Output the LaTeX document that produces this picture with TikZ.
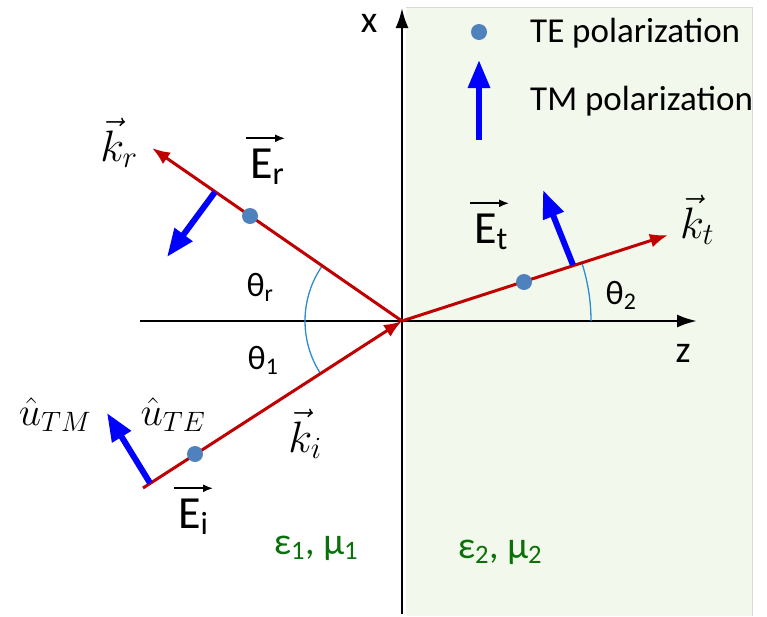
\RequirePackage{fix-cm}
\documentclass[tikz,border=0pt]{standalone}
\usepackage{fontspec}
\newfontfamily\cb{Carlito}
\usetikzlibrary{arrows.meta}
\definecolor{raycol}{HTML}{C00000}
\definecolor{tmcol}{HTML}{0000FF}
\definecolor{tecol}{HTML}{4F81BD}
\definecolor{arccol}{HTML}{2E8BD0}
\definecolor{medcol}{HTML}{F2F8EB}
\definecolor{grncol}{HTML}{0A700A}
\begin{document}
\begin{tikzpicture}[x=1pt,y=-1pt,
  rayline/.style={raycol, line width=3pt, -{Latex[length=18pt,width=14pt]}},
  tmarrow/.style={tmcol, line width=6pt, -{Triangle[length=28pt,width=21pt]}},
  tedot/.style={circle, fill=tecol, inner sep=0pt, minimum size=16pt},
  axisline/.style={black, line width=2.5pt, -{Latex[length=20pt,width=13pt]}},
  anglearc/.style={arccol, line width=1.3pt},
  earrow/.style={black, line width=1.6pt, -{Latex[length=10pt,width=8pt]}},
  lbl/.style={inner sep=0pt, font=\cb\fontsize{38}{44}\selectfont},
  leg/.style={inner sep=0pt, anchor=west, font=\cb\fontsize{35}{42}\selectfont},
  thlbl/.style={inner sep=0pt, font=\cb\fontsize{34}{40}\selectfont},
  elbl/.style={inner sep=0pt, anchor=base west, font=\cb\fontsize{46}{52}\selectfont},
  klbl/.style={inner sep=0pt, font=\fontsize{44}{50}\selectfont},
  ulbl/.style={inner sep=0pt, font=\fontsize{40}{46}\selectfont},
  medlbl/.style={inner sep=0pt, text=grncol, font=\cb\fontsize{38}{44}\selectfont}]
\useasboundingbox (0,0) rectangle (767,616);
% medium 2
\fill[medcol] (406,7) rectangle (752,616);
\draw[black!15, line width=1pt] (406,7) -- (752,7) -- (752,616);
% coordinates
\coordinate (O) at (402,321);
\coordinate (xb) at (402,614);
\coordinate (xt) at (402,8);
\coordinate (zl) at (140,321);
\coordinate (zr) at (697,321);
\coordinate (Ai) at (143,488);
\coordinate (Ar) at (152,148);
\coordinate (At) at (668,235);
% axes
\draw[axisline] (xb) -- (xt);
\draw[axisline] (zl) -- (zr);
% angle arcs
\draw[anglearc] (O) ++(147.2:97) arc[start angle=147.2, end angle=214.7, radius=97];
\draw[anglearc] (O) ++(-18:189) arc[start angle=-18, end angle=0, radius=189];
% rays
\draw[rayline] (Ai) -- (O);
\draw[rayline] (O) -- (Ar);
\draw[rayline] (O) -- (At);
% TM arrows
\coordinate (tmi0) at (150,483);
\coordinate (tmi1) at (107,413);
\coordinate (tmr0) at (215,192);
\coordinate (tmr1) at (167,257);
\coordinate (tmt0) at (573,265);
\coordinate (tmt1) at (543,190);
\draw[tmarrow] (tmi0) -- (tmi1);
\draw[tmarrow] (tmr0) -- (tmr1);
\draw[tmarrow] (tmt0) -- (tmt1);
% TE dots
\node[tedot] (tei) at (195,454) {};
\node[tedot] (ter) at (250,216) {};
\node[tedot] (tet) at (524,282) {};
% legend
\node[tedot] (teleg) at (479,32) {};
\coordinate (tml0) at (479,140);
\coordinate (tml1) at (479,60);
\draw[tmarrow] (tml0) -- (tml1);
\node[leg] (legte) at (530,33) {TE polarization};
\node[leg] (legtm) at (530,101) {TM polarization};
% axis labels
\node[lbl] (xlab) at (369,23) {x};
\node[lbl] (zlab) at (683,353) {z};
% angles
\node[thlbl] (thr) at (260,287) {θ\textsubscript{r}};
\node[thlbl] (th1) at (263,360) {θ\textsubscript{1}};
\node[thlbl] (th2) at (621,295) {θ\textsubscript{2}};
% field labels
\node[elbl] (Er) at (250,178) {E\textsubscript{r}};
\node[elbl] (Et) at (474,243) {E\textsubscript{t}};
\node[elbl] (Ei) at (178,528) {E\textsubscript{i}};
\draw[earrow] ([xshift=-4pt,yshift=10pt]Er.north west) -- ++(39,0);
\draw[earrow] ([xshift=-4pt,yshift=10pt]Et.north west) -- ++(39,0);
\draw[earrow] ([xshift=-4pt,yshift=10pt]Ei.north west) -- ++(39,0);
% wave vectors
\node[klbl] (kr) at (119,143) {$\vec{k}_r$};
\node[klbl] (kt) at (697,220) {$\vec{k}_t$};
\node[klbl] (ki) at (305,434) {$\vec{k}_i$};
\node[ulbl] (utm) at (55,415) {$\hat{u}_{TM}$};
\node[ulbl] (ute) at (173,415) {$\hat{u}_{TE}$};
% media
\node[medlbl] (m1) at (316,548) {ε\textsubscript{1}, μ\textsubscript{1}};
\node[medlbl] (m2) at (500,552) {ε\textsubscript{2}, μ\textsubscript{2}};
\end{tikzpicture}
\end{document}
